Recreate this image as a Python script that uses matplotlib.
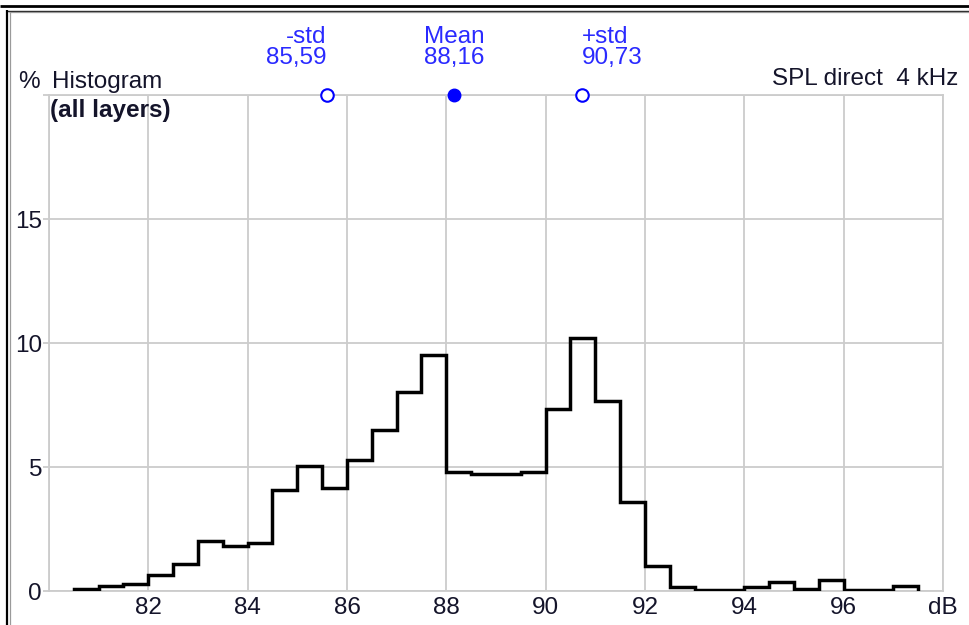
import numpy as np
import matplotlib
matplotlib.use("Agg")
import matplotlib.pyplot as plt
from matplotlib.lines import Line2D

plt.rcParams['font.family'] = ['Liberation Sans', 'DejaVu Sans']

# histogram of SPL levels, 0.5 dB classes
bin_edges = np.arange(80.5, 97.51, 0.5)
percent = [0.10, 0.22, 0.30, 0.63, 1.10, 2.00, 1.83, 1.93, 4.07, 5.06,
           4.15, 5.28, 6.51, 8.04, 9.51, 4.79, 4.72, 4.72, 4.80, 7.32,
           10.21, 7.65, 3.58, 1.00, 0.15, 0.06, 0.06, 0.15, 0.37, 0.08,
           0.46, 0.06, 0.06, 0.19]

mean_db = 88.16
minus_std = 85.59
plus_std = 90.73

x_ticks = [80, 82, 84, 86, 88, 90, 92, 94, 96, 98]
x_labels = ['', '82', '84', '86', '88', '90', '92', '94', '96', 'dB']
y_ticks = [0, 5, 10, 15, 20]
y_labels = ['0', '5', '10', '15', '']

W, H = 970, 625
fig = plt.figure(figsize=(W / 100, H / 100), dpi=100)
ax = fig.add_axes([49 / W, (H - 591) / H, (943 - 49) / W, (591 - 95) / H])

grid_c = '#cccccc'
txt_c = '#14142a'
blue = '#0000ff'
lbl_blue = '#2a2aff'

ax.stairs(percent, bin_edges, baseline=0, color='black', lw=2.5, zorder=3)

ax.set_xlim(80, 98)
ax.set_ylim(0, 20)
ax.set_xticks(x_ticks)
ax.set_xticklabels(x_labels)
ax.set_yticks(y_ticks)
ax.set_yticklabels(y_labels)
ax.grid(True, color=grid_c, lw=1.3)
for s in ax.spines.values():
    s.set_color(grid_c)
    s.set_linewidth(1.3)
ax.tick_params(axis='x', length=0, pad=4, labelsize=17.5, labelcolor=txt_c)
ax.tick_params(axis='y', length=4, width=1.3, color=grid_c, pad=1,
               labelsize=17.5, labelcolor=txt_c)

# mean and +/- std markers on the top edge
ax.plot([minus_std, plus_std], [20, 20], 'o', ms=9, mfc='white', mec=blue,
        mew=1.5, clip_on=False, zorder=5)
ax.plot([mean_db], [20], 'o', ms=9, mfc=blue, mec=blue, clip_on=False, zorder=5)

def fmt(v):
    return f'{v:.2f}'.replace('.', ',')

for x, name, ha in [(minus_std, '-std', 'right'), (mean_db, 'Mean', 'center'),
                    (plus_std, '+std', 'left')]:
    ax.annotate(name, xy=(x, 20), xytext=(0, 37.5), textcoords='offset points',
                ha=ha, va='baseline', fontsize=17.5, color=lbl_blue)
    ax.annotate(fmt(x), xy=(x, 20), xytext=(0, 22.5), textcoords='offset points',
                ha=ha, va='baseline', fontsize=17.5, color=lbl_blue)

fig.text(18 / W, 1 - 88 / H, '%', fontsize=17.5, color=txt_c, va='baseline')
fig.text(52 / W, 1 - 88 / H, 'Histogram', fontsize=17.5, color=txt_c, va='baseline')
fig.text(50 / W, 1 - 117 / H, '(all layers)', fontsize=17.5, color=txt_c,
         fontweight='bold', va='baseline')
fig.text(958 / W, 1 - 85 / H, 'SPL direct  4 kHz', fontsize=17.5, color=txt_c,
         ha='right', va='baseline')

# window frame
def px_line(x0, y0, x1, y1, c, lw):
    fig.add_artist(Line2D([x0 / W, x1 / W], [1 - y0 / H, 1 - y1 / H],
                          transform=fig.transFigure, color=c, lw=lw,
                          solid_capstyle='butt'))

px_line(0, 6, W, 6, 'black', 2.0)
px_line(7, 10.5, W, 10.5, '#222222', 1.0)
px_line(9, 12, W, 12, '#9a9a9a', 0.9)
px_line(7.5, 10, 7.5, H, 'black', 1.6)
px_line(9.7, 12, 9.7, H, '#9a9a9a', 0.9)

fig.savefig('out.png', dpi=100)
